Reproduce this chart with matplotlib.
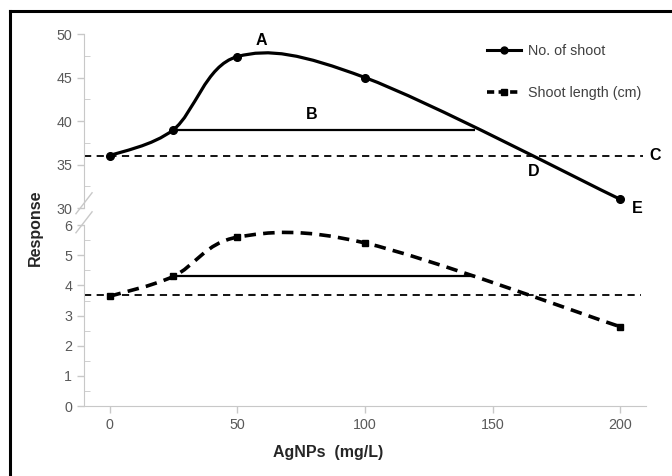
import matplotlib
matplotlib.use('Agg')
import matplotlib.pyplot as plt
from matplotlib.path import Path
from matplotlib.patches import PathPatch
from matplotlib.lines import Line2D
import numpy as np

plt.rcParams['font.family'] = ['Liberation Sans', 'DejaVu Sans']

# data
conc = [0, 25, 50, 100, 200]
shoot_no = [36.0, 39.0, 47.4, 45.0, 31.0]
shoot_len = [3.64, 4.30, 5.6, 5.41, 2.63]
ctrl_no = 36.0
ctrl_len = 3.67
b_end = 143
xticks = [0, 50, 100, 150, 200]

grey = '#c8c8c8'
tickc = '#595959'


def smooth_path(x, y):
    # Excel style smoothed line: bezier segments, catmull-rom control points
    p = np.column_stack([x, y]).astype(float)
    p = np.vstack([p[0], p, p[-1]])
    verts = [p[1]]
    codes = [Path.MOVETO]
    for i in range(1, len(p) - 2):
        c1 = p[i] + (p[i + 1] - p[i - 1]) / 6
        c2 = p[i + 1] - (p[i + 2] - p[i]) / 6
        verts += [c1, c2, p[i + 1]]
        codes += [Path.CURVE4] * 3
    return Path(verts, codes)


fig = plt.figure(figsize=(6.72, 4.76), dpi=100)
ax_top = fig.add_axes([0.125, 0.563, 0.836, 0.3655])
ax_bot = fig.add_axes([0.125, 0.147, 0.836, 0.380])

for ax in (ax_top, ax_bot):
    ax.set_xlim(-10, 210)
    for s in ['top', 'right']:
        ax.spines[s].set_visible(False)
    ax.spines['left'].set_color(grey)
    ax.spines['bottom'].set_color(grey)
    ax.tick_params(axis='both', colors=grey, labelcolor=tickc, labelsize=10.3,
                   length=5, width=1)
    ax.tick_params(axis='y', which='minor', colors=grey, length=4, direction='in')
    ax.set_facecolor('none')

# upper part: number of shoots
ax_top.set_ylim(30, 50)
ax_top.set_yticks([30, 35, 40, 45, 50])
ax_top.set_yticks(np.arange(30, 50, 2.5), minor=True)
ax_top.spines['bottom'].set_visible(False)
ax_top.set_xticks([])
ax_top.add_patch(PathPatch(smooth_path(conc, shoot_no), fill=False, lw=2.3,
                           ec='black', capstyle='round'))
ax_top.plot(conc, shoot_no, 'o', color='black', ms=5.5, ls='none', clip_on=False)
ax_top.hlines(shoot_no[1], conc[1], b_end, color='black', lw=1.6)
ax_top.hlines(ctrl_no, -10, 209, color='black', lw=1.3, linestyles=(0, (4, 3)))

ax_top.text(59.5, 49.2, 'A', fontsize=11.5, fontweight='bold', ha='center', va='center')
ax_top.text(79, 40.7, 'B', fontsize=11.5, fontweight='bold', ha='center', va='center')
ax_top.text(213.5, 36.0, 'C', fontsize=11.5, fontweight='bold', ha='center', va='center',
            clip_on=False)
ax_top.text(166, 34.2, 'D', fontsize=11.5, fontweight='bold', ha='center', va='center')
ax_top.text(206.5, 29.9, 'E', fontsize=11.5, fontweight='bold', ha='center', va='center',
            clip_on=False)

# lower part: shoot length
ax_bot.set_ylim(0, 6)
ax_bot.set_yticks([0, 1, 2, 3, 4, 5, 6])
ax_bot.set_yticks(np.arange(0, 6, 0.5), minor=True)
ax_bot.set_xticks(xticks)
ax_bot.add_patch(PathPatch(smooth_path(conc, shoot_len), fill=False, lw=2.6,
                           ec='black', linestyle=(0, (3.2, 2.0))))
ax_bot.plot(conc, shoot_len, 's', color='black', ms=5, ls='none', clip_on=False)
ax_bot.hlines(shoot_len[1], conc[1], b_end, color='black', lw=1.6)
ax_bot.hlines(ctrl_len, -10, 208, color='black', lw=1.3, linestyles=(0, (4, 3)))

# axis break marks
for yb in (0.573, 0.533):
    fig.add_artist(Line2D([0.125 - 0.012, 0.125 + 0.012], [yb - 0.022, yb + 0.022],
                          color=grey, lw=1))

# legend
handles = [Line2D([], [], color='black', lw=2.2, marker='o', ms=5),
           Line2D([], [], color='black', lw=2.6, ls=(0, (2.0, 1.2)), marker='s', ms=5)]
fig.legend(handles, ['No. of shoot', 'Shoot length (cm)'], loc='center left',
           bbox_to_anchor=(487 / 672, 1 - 72 / 476), frameon=False, fontsize=10.3,
           handlelength=2.4, handletextpad=0.5, labelspacing=1.95,
           borderpad=0, borderaxespad=0, labelcolor='#404040')

fig.text(35 / 672, 1 - 228 / 476, 'Response', rotation=90, fontsize=11.5,
         fontweight='bold', ha='center', va='center', color='#262626')
fig.text(328 / 672, 1 - 452 / 476, 'AgNPs  (mg/L)', fontsize=11.5,
         fontweight='bold', ha='center', va='center', color='#262626')

# outer frame (only top and left visible in the crop)
fig.add_artist(Line2D([0.0156, 0.0156], [0, 0.977], color='black', lw=2.2))
fig.add_artist(Line2D([0.0156, 1.0], [0.977, 0.977], color='black', lw=2.2))

fig.savefig('out.png', dpi=100)
